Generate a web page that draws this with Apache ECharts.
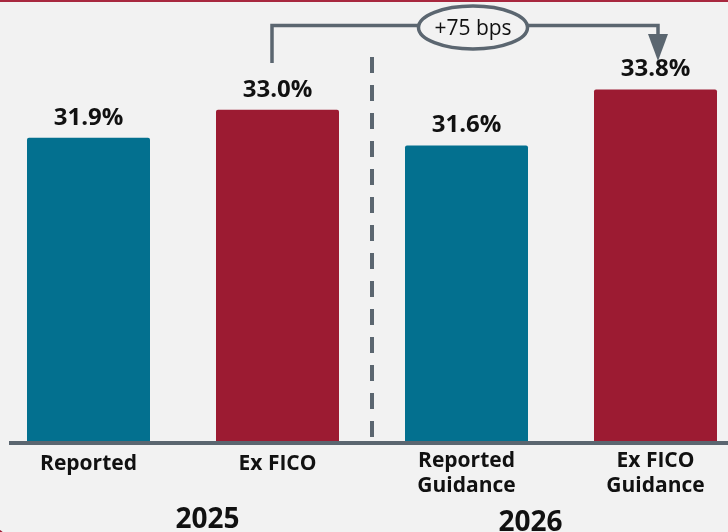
<!DOCTYPE html>
<html>
<head>
<meta charset="utf-8">
<script src="https://cdn.jsdelivr.net/npm/echarts@6/dist/echarts.min.js"></script>
<style>
  html, body { margin: 0; padding: 0; background: #f2f2f2; }
  #chart { width: 728px; height: 532px; }
</style>
</head>
<body>
<div id="chart"></div>
<script>
const categories = ['Reported', 'Ex FICO', 'Reported\nGuidance', 'Ex FICO\nGuidance'];
const values = [31.9, 33.0, 31.6, 33.8];
const years = ['2025', '2026'];
const changeLabel = '+75 bps';

const TEAL = '#03708f';
const RED = '#9c1b32';
const GREY = '#5b6670';
const barColors = [TEAL, RED, TEAL, RED];
const FONT = '"Open Sans", sans-serif';

const chart = echarts.init(document.getElementById('chart'), null, { renderer: 'canvas' });

const option = {
  backgroundColor: '#f2f2f2',
  animation: false,
  grid: { left: -6, width: 756, top: 41, height: 400, outerBoundsMode: 'none', containLabel: false },
  xAxis: {
    type: 'category',
    data: categories,
    axisLine: { show: false },
    axisTick: { show: false },
    axisLabel: {
      interval: 0,
      margin: 8,
      fontFamily: FONT,
      fontWeight: 'bold',
      fontSize: 21,
      lineHeight: 25,
      color: '#111111',
      formatter: function (v) {
        return v.indexOf('\n') >= 0 ? v : '{s|' + v + '}';
      },
      rich: {
        s: { fontFamily: FONT, fontWeight: 'bold', fontSize: 21, lineHeight: 25, color: '#111111', padding: [5, 0, 0, 0] }
      }
    }
  },
  yAxis: {
    type: 'value',
    min: 20,
    max: 35.7,
    show: false,
    splitLine: { show: false }
  },
  series: [{
    type: 'bar',
    barWidth: 123,
    data: values.map((v, i) => ({ value: v, itemStyle: { color: barColors[i], borderRadius: [2, 2, 0, 0] } })),
    label: {
      show: true,
      position: 'top',
      distance: 8,
      fontFamily: FONT,
      fontWeight: 'bold',
      fontSize: 24,
      color: '#111111',
      formatter: p => p.value.toFixed(1) + '%'
    }
  }]
};
chart.setOption(option);

const px = i => chart.convertToPixel({ xAxisIndex: 0 }, categories[i]);
const x0 = px(0), x1 = px(1), x2 = px(2), x3 = px(3);
const divX = (x1 + x2) / 2;
const bL = x1 - 5.5, bR = x3 + 2.5;
const baseY = chart.convertToPixel({ yAxisIndex: 0 }, 20);

chart.setOption({
  graphic: [
    // top red border
    { type: 'rect', shape: { x: 0, y: 0, width: 728, height: 2 }, style: { fill: '#a8283f' }, z: 10 },
    // bottom-left corner accent
    { type: 'circle', shape: { cx: -4, cy: 538, r: 9 }, style: { fill: '#9c1b32' }, z: 10 },
    // baseline
    { type: 'rect', shape: { x: 9, y: baseY, width: 728 - 9, height: 4 }, style: { fill: GREY }, z: 10 },
    // divider
    { type: 'line', shape: { x1: divX, y1: 57, x2: divX, y2: 438 }, style: { stroke: GREY, lineWidth: 4, lineDash: [16, 12] }, z: 10 },
    // bracket
    { type: 'polyline', shape: { points: [[bL, 63], [bL, 25.5], [bR, 25.5], [bR, 36]] }, style: { stroke: GREY, lineWidth: 3.5, fill: null }, z: 10 },
    { type: 'polygon', shape: { points: [[bR - 10, 34], [bR + 10, 34], [bR, 61]] }, style: { fill: GREY }, z: 10 },
    { type: 'ellipse', shape: { cx: 473, cy: 27.5, rx: 54.5, ry: 21.5 }, style: { fill: '#f2f2f2', stroke: GREY, lineWidth: 3.5 }, z: 11 },
    { type: 'text', x: 473, y: 29, style: { text: changeLabel, fontFamily: FONT, fontSize: 21, fill: '#111111', textAlign: 'center', textVerticalAlign: 'middle' }, z: 12 },
    // years
    { type: 'text', x: 207.5, y: 520, style: { text: years[0], fontFamily: FONT, fontWeight: 'bold', fontSize: 28, fill: '#111111', textAlign: 'center', textVerticalAlign: 'middle' }, z: 12 },
    { type: 'text', x: 530.5, y: 523, style: { text: years[1], fontFamily: FONT, fontWeight: 'bold', fontSize: 28, fill: '#111111', textAlign: 'center', textVerticalAlign: 'middle' }, z: 12 }
  ]
});
</script>
</body>
</html>
